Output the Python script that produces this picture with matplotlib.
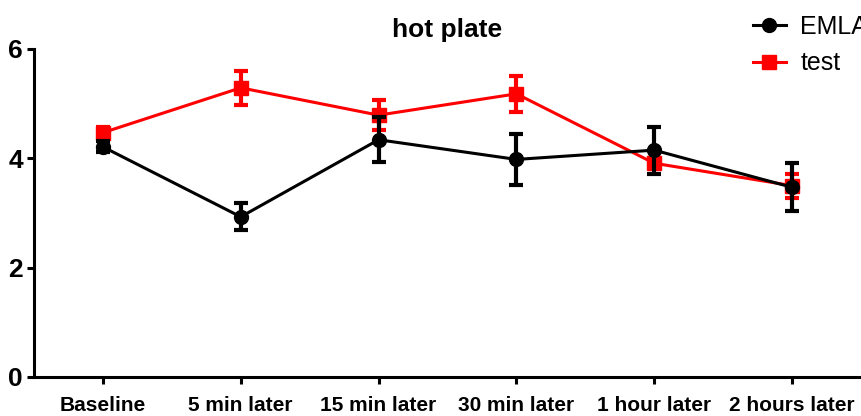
import matplotlib
matplotlib.use("Agg")
import matplotlib.pyplot as plt
from matplotlib.lines import Line2D
import numpy as np

# Hot plate latency per time point (mean and error)
categories = ["Baseline", "5 min later", "15 min later", "30 min later",
              "1 hour later", "2 hours later"]
emla_mean = [4.21, 2.93, 4.34, 3.98, 4.15, 3.47]
emla_err = [0.10, 0.25, 0.41, 0.46, 0.43, 0.44]
test_mean = [4.47, 5.29, 4.79, 5.18, 3.91, 3.50]
test_err = [0.10, 0.31, 0.27, 0.33, 0.09, 0.22]
y_ticks = [0, 2, 4, 6]

plt.rcParams["font.family"] = ["Liberation Sans", "DejaVu Sans"]

fig = plt.figure(figsize=(8.61, 4.16), dpi=100)
ax = fig.add_axes([34 / 861, 1 - 377 / 416, 1 - 34 / 861, (377 - 49) / 416])

x = np.arange(len(categories))

RED = "#ff0000"
style = dict(markersize=10, linewidth=2.2, elinewidth=3, capsize=5, capthick=3)
ax.errorbar(x, test_mean, yerr=test_err, color=RED, marker="s", zorder=3, **style)
ax.errorbar(x, emla_mean, yerr=emla_err, color="black", marker="o", zorder=4, **style)

ax.set_xlim(-0.5, len(categories) - 0.5)
ax.set_ylim(0, 6)
ax.set_yticks(y_ticks)
ax.set_xticks(x)
ax.set_xticklabels(categories, fontsize=15, fontweight="bold")
ax.set_yticklabels([str(v) for v in y_ticks], fontsize=19, fontweight="bold")

for side in ("top", "right"):
    ax.spines[side].set_visible(False)
for side in ("left", "bottom"):
    ax.spines[side].set_linewidth(2.2)
ax.tick_params(axis="both", direction="out", length=5, width=2.2)
ax.tick_params(axis="x", pad=9)
ax.tick_params(axis="y", pad=3)

ax.set_title("hot plate", fontsize=19, fontweight="bold", pad=9)

legend_handles = [
    Line2D([], [], color="black", marker="o", markersize=10, linewidth=2.2),
    Line2D([], [], color=RED, marker="s", markersize=10, linewidth=2.2),
]
fig.legend(legend_handles, ["EMLA", "test"],
           loc="upper left", bbox_to_anchor=(753 / 861, 1 - 15 / 416),
           frameon=False, fontsize=18, borderpad=0, borderaxespad=0,
           handlelength=1.3, handletextpad=0.6, labelspacing=0.5)

fig.savefig("out.png", dpi=100)
